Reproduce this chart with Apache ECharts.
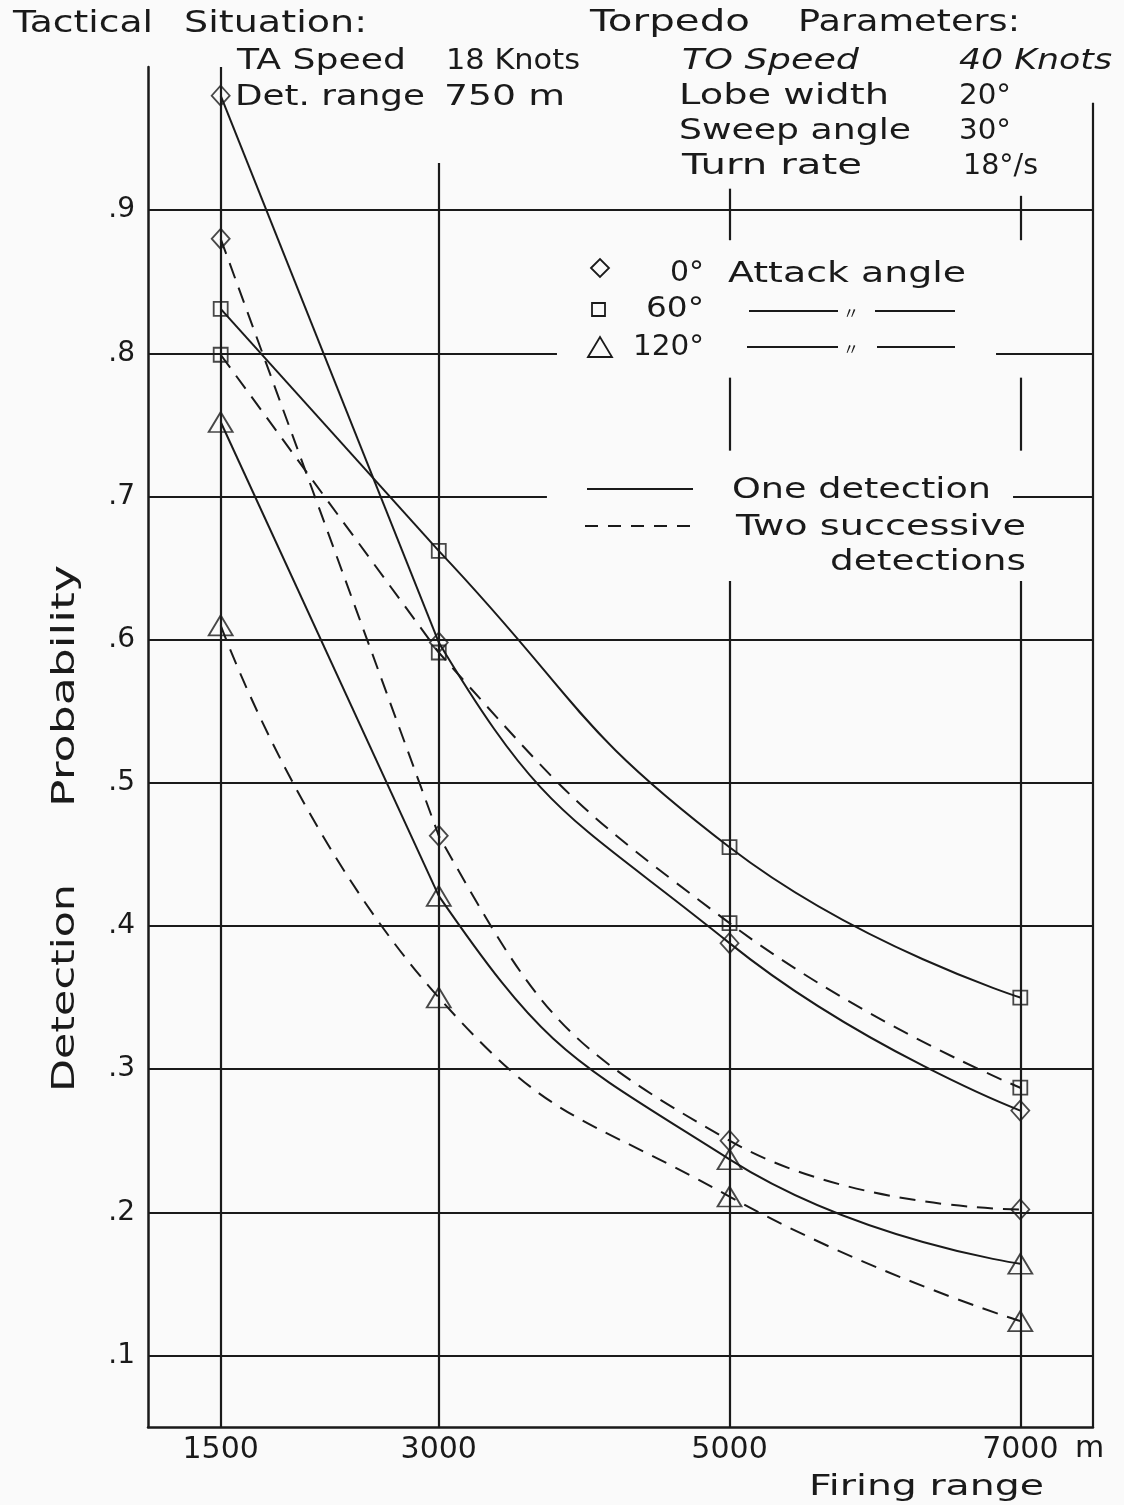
<!DOCTYPE html>
<html>
<head>
<meta charset="utf-8">
<script src="https://cdn.jsdelivr.net/npm/echarts@6/dist/echarts.min.js"></script>
<style>
html,body{margin:0;padding:0;background:#fafafa;}
#chart{width:1124px;height:1505px;}
</style>
</head>
<body>
<div id="chart"></div>
<script>
// ---------------- data ----------------
const firingRange = [1500, 3000, 5000, 7000];
const xTickLabels = ['1500', '3000', '5000', '7000'];
const yTickValues = [0.1, 0.2, 0.3, 0.4, 0.5, 0.6, 0.7, 0.8, 0.9];
const yTickLabels = ['.1', '.2', '.3', '.4', '.5', '.6', '.7', '.8', '.9'];

// One detection (solid)
const oneDet0   = [0.98, 0.598, 0.388, 0.271];
const oneDet60  = [0.831, 0.662, 0.455, 0.350];
const oneDet120 = [0.752, 0.421, 0.237, 0.164];
// Two successive detections (dashed)
const twoDet0   = [0.880, 0.463, 0.250, 0.202];
const twoDet60  = [0.799, 0.591, 0.402, 0.287];
const twoDet120 = [0.610, 0.350, 0.211, 0.124];

// ---------------- layout ----------------
const INK = '#1a1a1a';
const FONT = 'DejaVu Sans';
const X0 = 1000, X1 = 7500, Y0 = 0.05, Y1 = 1.0;

const chart = echarts.init(document.getElementById('chart'), null, {renderer: 'canvas'});

const mctx = document.createElement('canvas').getContext('2d');
function txt(s, left, cy, size, width, italic, extra) {
  const style = italic ? 'italic' : 'normal';
  mctx.font = style + ' ' + size + 'px "' + FONT + '"';
  const w = mctx.measureText(s).width;
  const sx = width ? width / w : 1;
  return Object.assign({
    type: 'text', x: left, y: cy, scaleX: sx, silent: true, z: 20,
    style: {
      text: s, fill: INK, fontSize: size, fontFamily: FONT, fontStyle: style,
      align: 'left', verticalAlign: 'middle', textAlign: 'left', textVerticalAlign: 'middle'
    }
  }, extra || {});
}
function seg(x1, y1, x2, y2, dash) {
  return {type: 'line', silent: true, z: 20,
    shape: {x1, y1, x2, y2},
    style: {stroke: INK, lineWidth: 2, lineDash: dash || null}};
}

// gridline segments (breaks where the legend sits)
const hBreaks = {'0.8': [3813, 6833], '0.7': [3744, 6950]};
const vLines = [
  [firingRange[0], [[Y0, Y1]]],
  [firingRange[1], [[Y0, 0.933]]],
  [firingRange[2], [[Y0, 0.641], [0.732, 0.783], [0.879, 0.915]]],
  [firingRange[3], [[Y0, 0.641], [0.732, 0.783], [0.879, 0.910]]],
  [X1, [[Y0, 0.975]]]
];
const segs = [];
yTickValues.forEach(v => {
  const br = hBreaks[v.toFixed(1)];
  if (br) { segs.push([[X0, v], [br[0], v]]); segs.push([[br[1], v], [X1, v]]); }
  else segs.push([[X0, v], [X1, v]]);
});
vLines.forEach(([x, ranges]) => ranges.forEach(([a, b]) => segs.push([[x, a], [x, b]])));

// curve drawing settings
const curves = [
  {name: '0° one detection', values: oneDet0, symbol: 'diamond', size: [18, 20], dashed: false, straightFirst: true},
  {name: '60° one detection', values: oneDet60, symbol: 'rect', size: [14, 14], dashed: false, straightFirst: true},
  {name: '120° one detection', values: oneDet120, symbol: 'triangle', size: [24, 20], dashed: false, straightFirst: true},
  {name: '0° two successive detections', values: twoDet0, symbol: 'diamond', size: [18, 20], dashed: true, straightFirst: true},
  {name: '60° two successive detections', values: twoDet60, symbol: 'rect', size: [14, 14], dashed: true, straightFirst: true},
  {name: '120° two successive detections', values: twoDet120, symbol: 'triangle', size: [24, 20], dashed: true, straightFirst: false}
];

const series = [{
  name: 'grid', type: 'line', data: [], silent: true, z: 1,
  markLine: {
    silent: true, symbol: ['none', 'none'], animation: false,
    label: {show: false},
    lineStyle: {color: INK, width: 2.2, type: 'solid'},
    emphasis: {disabled: true},
    data: segs.map(([p, q]) => [{coord: p}, {coord: q}])
  }
}];
const vmSeries = [];
curves.forEach(c => {
  const pts = firingRange.map((x, i) => [x, c.values[i]]);
  const dash = c.dashed ? [16, 10] : 'solid';
  if (c.straightFirst) {
    // smooth curve, coloured by visualMap (hidden before 3000)
    vmSeries.push(series.length);
    series.push({name: c.name, type: 'line', data: pts, symbol: 'none', smooth: 0.5,
      lineStyle: {width: 2, type: dash}, z: 4, silent: true, emphasis: {disabled: true}});
    series.push({name: c.name, type: 'line', data: pts.slice(0, 2), symbol: 'none', smooth: false,
      lineStyle: {color: INK, width: 2, type: dash}, z: 4, silent: true, emphasis: {disabled: true}});
  } else {
    series.push({name: c.name, type: 'line', data: pts, symbol: 'none', smooth: 0.5,
      lineStyle: {color: INK, width: 2, type: dash}, z: 4, silent: true, emphasis: {disabled: true}});
  }
  series.push({name: c.name, type: 'scatter', data: pts, symbol: c.symbol, symbolSize: c.size,
    itemStyle: {color: 'rgba(0,0,0,0)', borderColor: INK, borderWidth: 1.8},
    z: 6, silent: true, emphasis: {disabled: true}});
});

const ditto = (x, y) => ({type: 'text', silent: true, z: 20, x, y,
  style: {text: '〃', fontSize: 16, fontFamily: 'Noto Sans CJK JP', fill: INK,
    align: 'center', verticalAlign: 'middle', textAlign: 'center', textVerticalAlign: 'middle'}});

const graphics = [
  // header
  txt('Tactical', 13, 24, 31, 140),
  txt('Situation:', 184, 24, 31, 183),
  txt('TA Speed', 237, 61, 29, 169),
  txt('18 Knots', 446, 61, 29, 134),
  txt('Det. range', 235, 97, 29, 190),
  txt('750 m', 444, 97, 29, 121),
  txt('Torpedo', 590, 23, 31, 160),
  txt('Parameters:', 798, 23, 31, 222),
  txt('TO Speed', 682, 61, 29, 177, true),
  txt('40 Knots', 959, 61, 29, 153, true),
  txt('Lobe width', 679, 96, 29, 210),
  txt('20°', 959, 96, 29, 52),
  txt('Sweep angle', 679, 131, 29, 232),
  txt('30°', 959, 131, 29, 52),
  txt('Turn rate', 682, 166, 29, 180),
  txt('18°/s', 963, 166, 29, 75),
  // legend: attack angle
  {type: 'polygon', silent: true, z: 20, shape: {points: [[591, 268], [600, 259], [609, 268], [600, 277]]},
   style: {fill: 'none', stroke: INK, lineWidth: 1.8}},
  txt('0°', 670, 273, 29, 34),
  txt('Attack angle', 728, 274, 29, 238),
  {type: 'rect', silent: true, z: 20, shape: {x: 592, y: 303, width: 13, height: 13},
   style: {fill: 'none', stroke: INK, lineWidth: 1.8}},
  txt('60°', 646, 309, 29, 58),
  seg(749, 311, 838, 311), seg(875, 311, 955, 311),
  ditto(851, 313),
  {type: 'polygon', silent: true, z: 20, shape: {points: [[588, 357], [600, 337], [612, 357]]},
   style: {fill: 'none', stroke: INK, lineWidth: 1.8}},
  txt('120°', 633, 347, 29, 71),
  seg(747, 347, 838, 347), seg(877, 347, 955, 347),
  ditto(851, 349),
  // legend: line styles
  seg(587, 489, 693, 489),
  txt('One detection', 732, 490, 29, 259),
  seg(585, 526, 693, 526, [13, 10]),
  txt('Two successive', 736, 527, 29, 290),
  txt('detections', 830, 562, 29, 196),
  // axis titles
  txt('m', 1075, 1449, 30, 0),
  txt('Firing range', 809, 1487, 29, 235),
  txt('Detection', 66, 1092, 32, 208, false, {rotation: Math.PI / 2}),
  txt('Probability', 66, 807, 32, 242, false, {rotation: Math.PI / 2})
];

const option = {
  animation: false,
  backgroundColor: '#fafafa',
  grid: {left: 148, right: 31, top: 67, bottom: 78, containLabel: false},
  xAxis: {
    type: 'value', min: X0, max: X1, interval: 500,
    axisLine: {show: true, lineStyle: {color: INK, width: 2.5}},
    axisTick: {show: false},
    splitLine: {show: false},
    axisLabel: {
      margin: 8, fontSize: 30, fontFamily: FONT, color: INK,
      formatter: v => { const i = firingRange.indexOf(Math.round(v)); return i >= 0 ? xTickLabels[i] : ''; }
    }
  },
  yAxis: {
    type: 'value', min: Y0, max: Y1, interval: 0.05,
    axisLine: {show: true, lineStyle: {color: INK, width: 2.5}},
    axisTick: {show: false},
    splitLine: {show: false},
    axisLabel: {
      margin: 13, fontSize: 28, fontFamily: FONT, color: INK,
      formatter: v => { const i = yTickValues.findIndex(t => Math.abs(t - v) < 1e-6); return i >= 0 ? yTickLabels[i] : ''; }
    }
  },
  visualMap: [{
    type: 'piecewise', show: false, dimension: 0, seriesIndex: vmSeries,
    pieces: [
      {min: X0, max: firingRange[1], color: 'rgba(0,0,0,0)'},
      {min: firingRange[1], max: X1, color: INK}
    ]
  }],
  series: series,
  graphic: {elements: graphics}
};
chart.setOption(option);
</script>
</body>
</html>
